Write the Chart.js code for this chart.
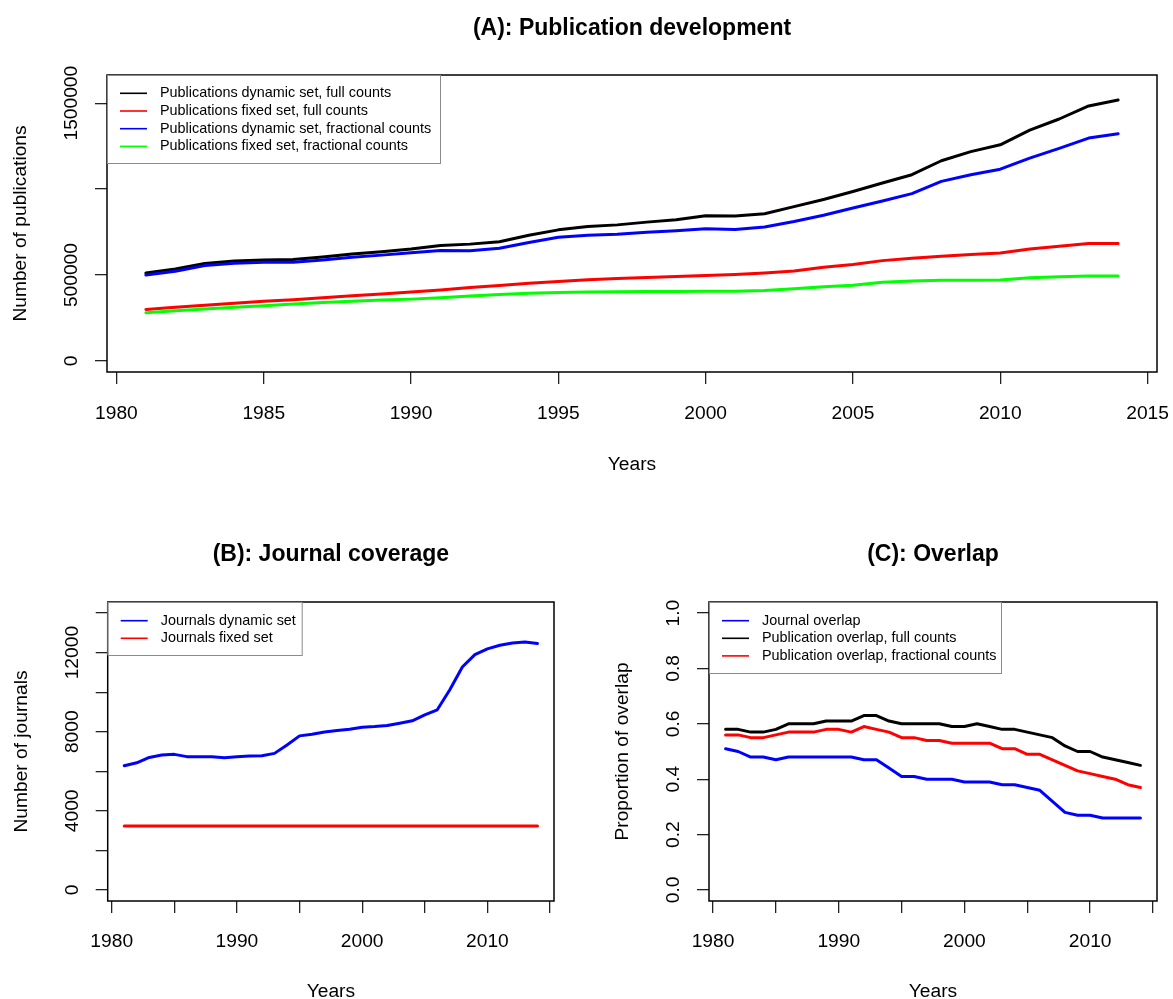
<!DOCTYPE html>
<html>
<head>
<meta charset="utf-8">
<script src="https://cdn.jsdelivr.net/npm/chart.js@4.4.0/dist/chart.umd.min.js"></script>
<style>
  html, body { margin: 0; padding: 0; background: #fff; }
  #page { position: relative; width: 1173px; height: 999px; overflow: hidden; background: #fff; }
  #page canvas { position: absolute; }
</style>
</head>
<body>
<div id="page">
  <canvas id="chartA" width="1173" height="490" style="left:0;top:0"></canvas>
  <canvas id="chartB" width="586" height="509" style="left:0;top:490px"></canvas>
  <canvas id="chartC" width="587" height="509" style="left:586px;top:490px"></canvas>
</div>
<script>
// data
const years = [1981, 1982, 1983, 1984, 1985, 1986, 1987, 1988, 1989, 1990,
  1991, 1992, 1993, 1994, 1995, 1996, 1997, 1998, 1999, 2000,
  2001, 2002, 2003, 2004, 2005, 2006, 2007, 2008, 2009, 2010,
  2011, 2012, 2013, 2014];

// (A) publications
const pubDynamicFull = [512000, 535000, 568000, 582000, 588000, 590000, 605000, 622000, 636000, 652000,
  672000, 680000, 694000, 732000, 763000, 782000, 792000, 808000, 822000, 845000,
  843000, 857000, 898000, 940000, 986000, 1036000, 1084000, 1165000, 1218000, 1258000,
  1343000, 1408000, 1484000, 1518000];
const pubFixedFull = [300000, 313000, 325000, 336000, 347000, 357000, 368000, 379000, 390000, 401000,
  413000, 427000, 439000, 452000, 463000, 473000, 480000, 486000, 491000, 497000,
  503000, 512000, 524000, 545000, 561000, 584000, 598000, 610000, 620000, 629000,
  651000, 667000, 683000, 684000];
const pubDynamicFrac = [500000, 522000, 555000, 568000, 574000, 574000, 588000, 603000, 616000, 630000,
  643000, 641000, 656000, 690000, 720000, 731000, 738000, 749000, 758000, 770000,
  765000, 780000, 812000, 848000, 890000, 931000, 974000, 1045000, 1084000, 1116000,
  1180000, 1237000, 1297000, 1322000];
const pubFixedFrac = [281000, 292000, 303000, 313000, 322000, 331000, 340000, 348000, 355000, 360000,
  368000, 378000, 387000, 394000, 399000, 402000, 403000, 404000, 405000, 406000,
  406000, 410000, 420000, 432000, 441000, 458000, 466000, 470000, 470000, 471000,
  484000, 490000, 494000, 494000];

// (B) journals
const journalsDynamic = [6280, 6430, 6700, 6820, 6855, 6740, 6740, 6740, 6690, 6740,
  6770, 6790, 6905, 7330, 7790, 7870, 7990, 8060, 8120, 8225,
  8260, 8310, 8430, 8550, 8850, 9110, 10120, 11270, 11900, 12190,
  12370, 12490, 12540, 12460];
const journalsFixed = [3230, 3230, 3230, 3230, 3230, 3230, 3230, 3230, 3230, 3230,
  3230, 3230, 3230, 3230, 3230, 3230, 3230, 3230, 3230, 3230,
  3230, 3230, 3230, 3230, 3230, 3230, 3230, 3230, 3230, 3230,
  3230, 3230, 3230, 3230];

// (C) overlap
const journalOverlap = [0.51, 0.50, 0.48, 0.48, 0.47, 0.48, 0.48, 0.48, 0.48, 0.48,
  0.48, 0.47, 0.47, 0.44, 0.41, 0.41, 0.40, 0.40, 0.40, 0.39,
  0.39, 0.39, 0.38, 0.38, 0.37, 0.36, 0.32, 0.28, 0.27, 0.27,
  0.26, 0.26, 0.26, 0.26];
const pubOverlapFull = [0.58, 0.58, 0.57, 0.57, 0.58, 0.60, 0.60, 0.60, 0.61, 0.61,
  0.61, 0.63, 0.63, 0.61, 0.60, 0.60, 0.60, 0.60, 0.59, 0.59,
  0.60, 0.59, 0.58, 0.58, 0.57, 0.56, 0.55, 0.52, 0.50, 0.50,
  0.48, 0.47, 0.46, 0.45];
const pubOverlapFrac = [0.56, 0.56, 0.55, 0.55, 0.56, 0.57, 0.57, 0.57, 0.58, 0.58,
  0.57, 0.59, 0.58, 0.57, 0.55, 0.55, 0.54, 0.54, 0.53, 0.53,
  0.53, 0.53, 0.51, 0.51, 0.49, 0.49, 0.47, 0.45, 0.43, 0.42,
  0.41, 0.40, 0.38, 0.37];

// ticks and tick labels
const yearTicks = [1980, 1985, 1990, 1995, 2000, 2005, 2010, 2015];
const yearLabelsA = [1980, 1985, 1990, 1995, 2000, 2005, 2010, 2015];
const yearLabelsBC = [1980, 1990, 2000, 2010];
const pubTicks = [0, 500000, 1000000, 1500000];
const pubTickLabels = [0, 500000, 1500000];
const journalTicks = [0, 2000, 4000, 6000, 8000, 10000, 12000, 14000];
const journalTickLabels = [0, 4000, 8000, 12000];
const overlapTicks = [0, 0.2, 0.4, 0.6, 0.8, 1.0];

const FONT = "'Liberation Sans', Arial, Helvetica, sans-serif";
const FS = 19.2;
Chart.defaults.font.family = FONT;
Chart.defaults.color = '#000';

const meas = document.createElement('canvas').getContext('2d');
function textWidth(s, size) {
  meas.font = size + 'px ' + FONT;
  return meas.measureText(s).width;
}

// frame round the plot region, like R's box()
const plotBox = {
  id: 'plotBox',
  afterDatasetsDraw(chart) {
    const { ctx, chartArea: a } = chart;
    ctx.save();
    ctx.strokeStyle = '#000';
    ctx.lineWidth = 1.5;
    ctx.strokeRect(a.left, a.top, a.right - a.left, a.bottom - a.top);
    ctx.restore();
  }
};

// legend in the top-left corner of the plot region, white background
const boxLegend = {
  id: 'boxLegend',
  afterDraw(chart, args, o) {
    const { ctx, chartArea: a } = chart;
    ctx.save();
    ctx.fillStyle = '#fff';
    ctx.fillRect(a.left, a.top, o.w, o.h);
    ctx.strokeStyle = '#8a8a8a';
    ctx.lineWidth = 1;
    ctx.strokeRect(a.left + 0.5, a.top + 0.5, o.w, o.h);
    ctx.font = '14.4px ' + FONT;
    ctx.textBaseline = 'middle';
    chart.data.datasets.forEach((ds, i) => {
      const y = a.top + o.firstRow + i * o.rowStep;
      ctx.strokeStyle = ds.borderColor;
      ctx.lineWidth = 1.6;
      ctx.beginPath();
      ctx.moveTo(a.left + 13, y);
      ctx.lineTo(a.left + 40, y);
      ctx.stroke();
      ctx.fillStyle = '#000';
      ctx.fillText(ds.label, a.left + 53, y);
    });
    ctx.restore();
  }
};

function makeChart(id, p) {
  const yLabelTexts = p.yLabels.map(p.yFmt);
  const widest = Math.max(...yLabelTexts.map(s => textWidth(s, FS)));
  const n = p.series.length;
  return new Chart(document.getElementById(id), {
    type: 'line',
    data: {
      datasets: p.series.map((s, i) => ({
        label: s.label,
        data: years.map((yr, k) => ({ x: yr, y: s.values[k] })),
        borderColor: s.color,
        backgroundColor: s.color,
        borderWidth: 3,
        pointRadius: 0,
        tension: 0,
        fill: false,
        borderJoinStyle: 'round',
        borderCapStyle: 'round',
        order: n - i
      }))
    },
    options: {
      responsive: false,
      animation: false,
      devicePixelRatio: 1,
      events: [],
      layout: { padding: { left: 0, right: p.padRight, top: 0, bottom: 0 } },
      plugins: {
        legend: { display: false },
        tooltip: { enabled: false },
        title: {
          display: true, text: p.title, fullSize: false, color: '#000',
          font: { size: 23, weight: 'bold' },
          padding: { top: p.titleTop, bottom: p.titleBottom }
        },
        boxLegend: p.legend
      },
      scales: {
        x: {
          type: 'linear', position: 'bottom', min: 1979.68, max: 2015.32,
          afterBuildTicks: s => { s.ticks = yearTicks.map(v => ({ value: v })); },
          afterFit: s => { s.height = p.xHeight; s.paddingLeft = 0; s.paddingRight = 0; },
          border: { display: false },
          grid: { drawOnChartArea: false, drawTicks: true, tickLength: 12, color: '#222', lineWidth: 1.3 },
          ticks: {
            autoSkip: false, maxRotation: 0, minRotation: 0, padding: p.xTickPad,
            font: { size: FS }, color: '#000',
            callback: v => (p.xLabels.includes(v) ? String(v) : '')
          },
          title: {
            display: true, text: 'Years', color: '#000', font: { size: FS },
            padding: { top: 0, bottom: p.xTitleBottom }
          }
        },
        y: {
          type: 'linear', position: 'left', min: p.yMin, max: p.yMax,
          afterBuildTicks: s => { s.ticks = p.yTicks.map(v => ({ value: v })); },
          afterFit: s => { s.width = p.yWidth; s.paddingTop = 0; s.paddingBottom = 0; },
          border: { display: false },
          grid: { drawOnChartArea: false, drawTicks: true, tickLength: 12, color: '#222', lineWidth: 1.3 },
          ticks: {
            autoSkip: false, minRotation: 90, maxRotation: 90, crossAlign: 'center',
            padding: 35 - 12 - widest / 2,
            font: { size: FS }, color: '#000',
            callback: v => (p.yLabels.includes(v) ? p.yFmt(v) : '')
          },
          title: {
            display: true, text: p.yTitle, color: '#000', font: { size: FS },
            padding: { top: p.yTitleTop, bottom: 0 }
          }
        }
      }
    },
    plugins: [plotBox, boxLegend]
  });
}

makeChart('chartA', {
  title: '(A): Publication development',
  titleTop: 15.2, titleBottom: 32.2,
  padRight: 16, yWidth: 107, xHeight: 118, xTickPad: 18, xTitleBottom: 13.5, yTitleTop: 9.5,
  xLabels: yearLabelsA,
  yMin: -64000, yMax: 1664000, yTicks: pubTicks, yLabels: pubTickLabels, yFmt: v => String(v),
  yTitle: 'Number of publications',
  legend: { w: 333, h: 88, firstRow: 18.3, rowStep: 17.7 },
  series: [
    { label: 'Publications dynamic set, full counts', color: '#000000', values: pubDynamicFull },
    { label: 'Publications fixed set, full counts', color: '#FF0000', values: pubFixedFull },
    { label: 'Publications dynamic set, fractional counts', color: '#0000FF', values: pubDynamicFrac },
    { label: 'Publications fixed set, fractional counts', color: '#00FF00', values: pubFixedFrac }
  ]
});

makeChart('chartB', {
  title: '(B): Journal coverage',
  titleTop: 51.2, titleBottom: 33.2,
  padRight: 32, yWidth: 107.7, xHeight: 98, xTickPad: 17, xTitleBottom: -4.5, yTitleTop: 10.2,
  xLabels: yearLabelsBC,
  yMin: -560, yMax: 14560, yTicks: journalTicks, yLabels: journalTickLabels, yFmt: v => String(v),
  yTitle: 'Number of journals',
  legend: { w: 194, h: 53, firstRow: 18.7, rowStep: 17.6 },
  series: [
    { label: 'Journals dynamic set', color: '#0000FF', values: journalsDynamic },
    { label: 'Journals fixed set', color: '#FF0000', values: journalsFixed }
  ]
});

makeChart('chartC', {
  title: '(C): Overlap',
  titleTop: 51.2, titleBottom: 33.2,
  padRight: 16, yWidth: 123, xHeight: 98, xTickPad: 17, xTitleBottom: -4.5, yTitleTop: 25.5,
  xLabels: yearLabelsBC,
  yMin: -0.04, yMax: 1.04, yTicks: overlapTicks, yLabels: overlapTicks, yFmt: v => v.toFixed(1),
  yTitle: 'Proportion of overlap',
  legend: { w: 292, h: 71, firstRow: 18.7, rowStep: 17.6 },
  series: [
    { label: 'Journal overlap', color: '#0000FF', values: journalOverlap },
    { label: 'Publication overlap, full counts', color: '#000000', values: pubOverlapFull },
    { label: 'Publication overlap, fractional counts', color: '#FF0000', values: pubOverlapFrac }
  ]
});
</script>
</body>
</html>
